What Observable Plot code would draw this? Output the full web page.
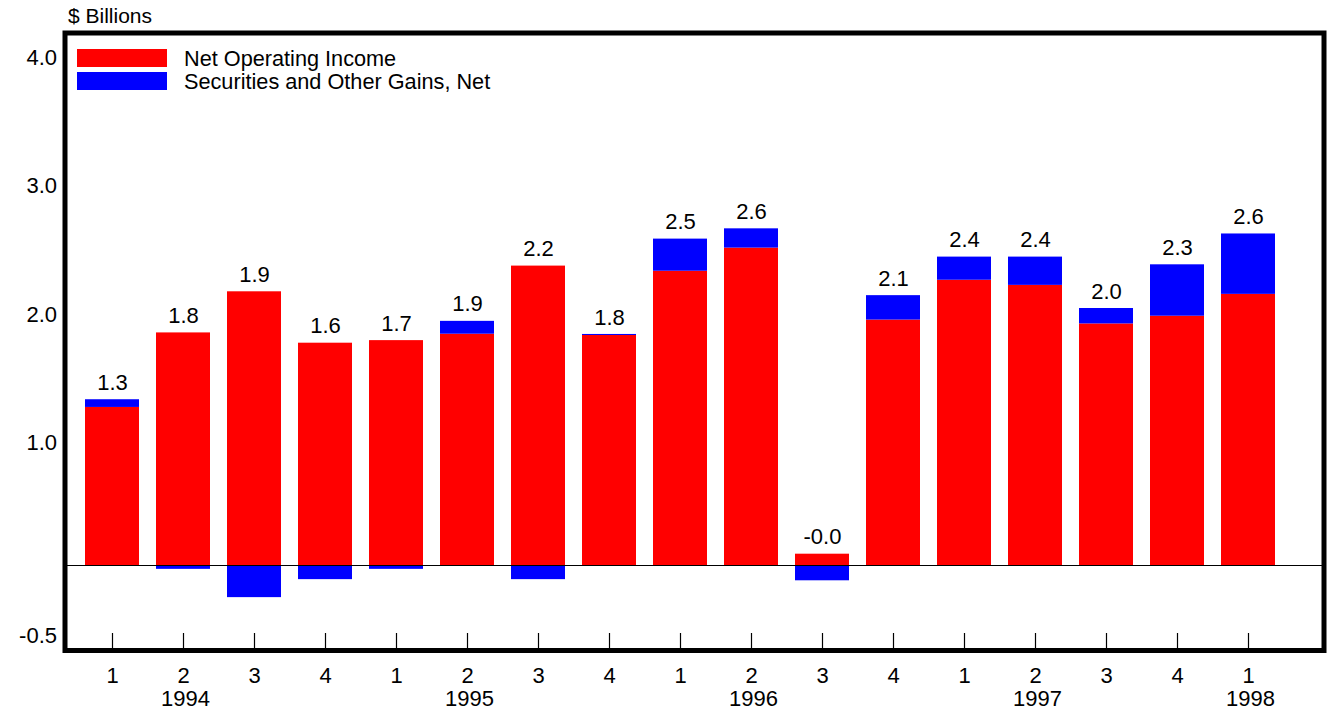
<!DOCTYPE html>
<html>
<head>
<meta charset="utf-8">
<script src="https://cdn.jsdelivr.net/npm/d3@7"></script>
<script src="https://cdn.jsdelivr.net/npm/@observablehq/plot@0.6"></script>
<style>
  html, body { margin: 0; padding: 0; background: #fff; }
  #wrap { position: relative; width: 1327px; height: 710px; font-family: "Liberation Sans", Arial, sans-serif; color: #000; }
  #ylab { position: absolute; left: 68px; top: 4px; font-size: 21px; line-height: 24px; }
  .leg { position: absolute; left: 77px; width: 90px; }
  .legt { position: absolute; left: 184px; font-size: 21.7px; line-height: 24px; white-space: nowrap; }
</style>
</head>
<body>
<div id="wrap">
  <div id="chart"></div>
  <div id="ylab">$ Billions</div>
  <div class="leg" style="top:49px;height:18px;background:#ff0000"></div>
  <div class="leg" style="top:71.5px;height:18.5px;background:#0000ff"></div>
  <div class="legt" style="top:47px">Net Operating Income</div>
  <div class="legt" style="top:70px">Securities and Other Gains, Net</div>
</div>
<script>
// Quarters (1994 Q1 .. 1998 Q1)
const quarters = ["1","2","3","4","1","2","3","4","1","2","3","4","1","2","3","4","1"];
const years    = ["1994","1994","1994","1994","1995","1995","1995","1995","1996","1996","1996","1996","1997","1997","1997","1997","1998"];
const yearLabelAt = ["","1994","","","","1995","","","","1996","","","","1997","","","1998"];
// Series values ($ billions)
const netOperatingIncome = [1.23, 1.81, 2.13, 1.73, 1.75, 1.80, 2.33, 1.79, 2.29, 2.47, 0.088, 1.91, 2.22, 2.18, 1.88, 1.94, 2.11];
const securitiesGains    = [0.06, -0.03, -0.25, -0.11, -0.03, 0.10, -0.11, 0.008, 0.25, 0.15, -0.119, 0.19, 0.18, 0.22, 0.12, 0.40, 0.47];
const seriesNames = ["Net Operating Income", "Securities and Other Gains, Net"];
const seriesColors = ["#ff0000", "#0000ff"];
const yTicks = [-0.5, 1, 2, 3, 4];

const keys = quarters.map((q, i) => `${years[i]}Q${q}`);
const rows = [];
keys.forEach((k, i) => {
  rows.push({key: k, series: seriesNames[0], value: netOperatingIncome[i]});
  rows.push({key: k, series: seriesNames[1], value: securitiesGains[i]});
});
const totals = keys.map((k, i) => ({
  key: k,
  top: Math.max(netOperatingIncome[i], netOperatingIncome[i] + securitiesGains[i]),
  label: (netOperatingIncome[i] + securitiesGains[i]).toFixed(1)
}));
const yearKeys = keys.filter((k, i) => yearLabelAt[i]);
const yearOf = new Map(keys.map((k, i) => [k, yearLabelAt[i]]));
const quarterOf = new Map(keys.map((k, i) => [k, quarters[i]]));

const chart = Plot.plot({
  width: 1327,
  height: 710,
  marginLeft: 64.5,
  marginRight: 3.5,
  marginTop: 32.5,
  marginBottom: 60,
  style: {fontFamily: "'Liberation Sans', Arial, sans-serif", fontSize: "22px", background: "#fff", color: "#000"},
  x: {domain: keys, range: [84, 1276], paddingInner: 0.233, paddingOuter: 0, axis: null},
  y: {domain: [0, 4], range: [565, 51], axis: null},
  color: {domain: seriesNames, range: seriesColors},
  marks: [
    Plot.barY(rows, {x: "key", y: "value", fill: "series", order: seriesNames}),
    Plot.ruleY([0], {stroke: "#000", strokeWidth: 1}),
    Plot.text(totals, {x: "key", y: "top", text: "label", dy: -17, fill: "#000"}),
    Plot.axisY({ticks: yTicks, label: null, tickSize: 0, tickPadding: 8, dy: 6, tickFormat: d => d.toFixed(1)}),
    Plot.axisX({ticks: keys, label: null, tickSize: -17, tickFormat: () => "", stroke: "#000", strokeWidth: 1.2}),
    Plot.axisX({ticks: keys, label: null, tickSize: 0, tickPadding: 17, tickFormat: k => quarterOf.get(k)}),
    Plot.axisX({ticks: yearKeys, label: null, tickSize: 0, tickPadding: 40, dx: 2, tickFormat: k => yearOf.get(k)}),
    Plot.frame({stroke: "#000", strokeWidth: 5})
  ]
});
document.getElementById("chart").appendChild(chart);
</script>
</body>
</html>
